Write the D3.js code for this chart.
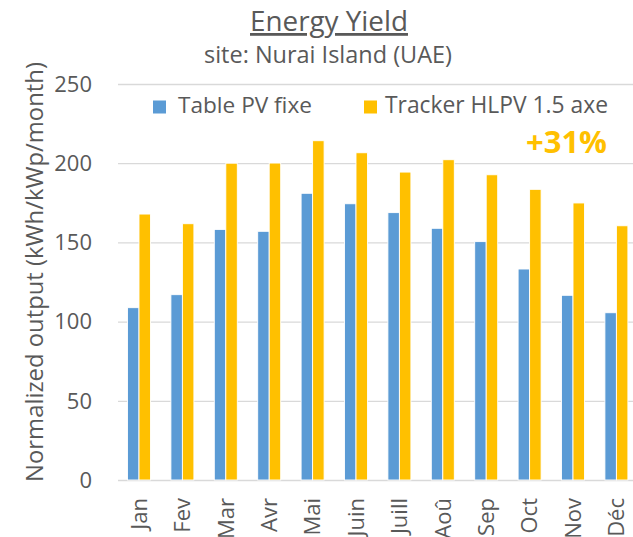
<!DOCTYPE html>
<html><head><meta charset="utf-8">
<script src="https://cdn.jsdelivr.net/npm/d3@7"></script>
<style>
html,body{margin:0;padding:0;background:#fff;}
svg{display:block;font-family:"Open Sans","Noto Sans",sans-serif;}
</style></head>
<body>
<svg id="chart" width="633" height="537"></svg>
<script>
const months = ["Jan","Fev","Mar","Avr","Mai","Juin","Juill","Aoû","Sep","Oct","Nov","Déc"];
const seriesNames = ["Table PV fixe","Tracker HLPV 1.5 axe"];
const fixedValues = [108.8,117,158.2,157,181,174.4,168.8,158.9,150.5,133.2,116.6,105.6];
const trackerValues = [167.9,161.8,200,200.1,214.2,206.6,194.4,202.2,192.7,183.5,174.9,160.5];
const yTicks = [0,50,100,150,200,250];
const titleText = "Energy Yield";
const subtitleText = "site: Nurai Island (UAE)";
const yAxisTitle = "Normalized output (kWh/kWp/month)";
const gainLabel = "+31%";

const colors = ["#5B9BD5","#FFC000"];
const textColor = "#595959";
const gridColor = "#D9D9D9";

const svg = d3.select("#chart");

const x0 = d3.scaleBand().domain(months).range([117.3, 638.1]).paddingInner(0.47).paddingOuter(0.235);
const x1 = d3.scaleBand().domain(seriesNames).range([0, x0.bandwidth()]).padding(0);
const y = d3.scaleLinear().domain([0,250]).range([480,84]);

function fitWidth(sel, target){
  const node = sel.node();
  const fs = parseFloat(sel.attr("font-size"));
  const w = node.getComputedTextLength();
  if (w > 0) sel.attr("font-size", (fs*target/w).toFixed(2));
  return sel;
}

// gridlines
svg.append("g").selectAll("line").data(yTicks).join("line")
  .attr("x1", 118).attr("x2", 633)
  .attr("y1", d => y(d)+0.5).attr("y2", d => y(d)+0.5)
  .attr("stroke", gridColor).attr("stroke-width", 1.3);

// y tick labels
svg.append("g").selectAll("text").data(yTicks).join("text")
  .attr("x", 92).attr("y", d => y(d)).attr("dy", "0.35em")
  .attr("text-anchor","end").attr("fill", textColor).attr("font-size", 22)
  .text(d => d);

// bars
const data = months.map((m,i) => ({m, vals:[fixedValues[i], trackerValues[i]]}));
const groups = svg.append("g").selectAll("g").data(data).join("g")
  .attr("transform", d => `translate(${x0(d.m)},0)`);
groups.selectAll("rect").data(d => d.vals.map((v,j) => ({name:seriesNames[j], v, j})))
  .join("rect")
  .attr("x", d => x1(d.name)).attr("width", x1.bandwidth())
  .attr("y", d => y(d.v)).attr("height", d => y(0) - y(d.v))
  .attr("fill", d => colors[d.j]).attr("stroke", "#fff").attr("stroke-width", 0.9);

// x labels
svg.append("g").selectAll("text").data(months).join("text")
  .attr("transform", d => `translate(${x0(d)+x0.bandwidth()/2},498) rotate(-90)`)
  .attr("dy","0.35em").attr("text-anchor","end")
  .attr("fill", textColor).attr("font-size", 22).text(d => d);

// y axis title
const yt = svg.append("text")
  .attr("transform","translate(35,272) rotate(-90)")
  .attr("dy","0.35em").attr("text-anchor","middle")
  .attr("fill", textColor).attr("font-size", 21).text(yAxisTitle);
fitWidth(yt, 420);

// title
const t = svg.append("text").attr("x", 329).attr("y", 31).attr("text-anchor","middle")
  .attr("fill", textColor).attr("font-size", 24).style("text-decoration","underline")
  .text(titleText);
fitWidth(t, 158);
const st = svg.append("text").attr("x", 328).attr("y", 63).attr("text-anchor","middle")
  .attr("fill", textColor).attr("font-size", 18).text(subtitleText);
fitWidth(st, 248);

// legend
const legendItems = [
  {name: seriesNames[0], sx:153, tx:178, w:134, c:colors[0]},
  {name: seriesNames[1], sx:364, tx:385, w:223, c:colors[1]}
];
const lg = svg.append("g");
legendItems.forEach(it => {
  lg.append("rect").attr("x", it.sx).attr("y", 100.5).attr("width", 13).attr("height", 13).attr("fill", it.c);
  const tx = lg.append("text").attr("x", it.tx).attr("y", 113).attr("fill", textColor)
    .attr("font-size", 20).text(it.name);
  fitWidth(tx, it.w);
});

// gain label
const g = svg.append("text").attr("x", 526).attr("y", 153).attr("fill", "#FFC000")
  .attr("font-weight","bold").attr("font-size", 30).text(gainLabel);
fitWidth(g, 81);
</script>
</body></html>
